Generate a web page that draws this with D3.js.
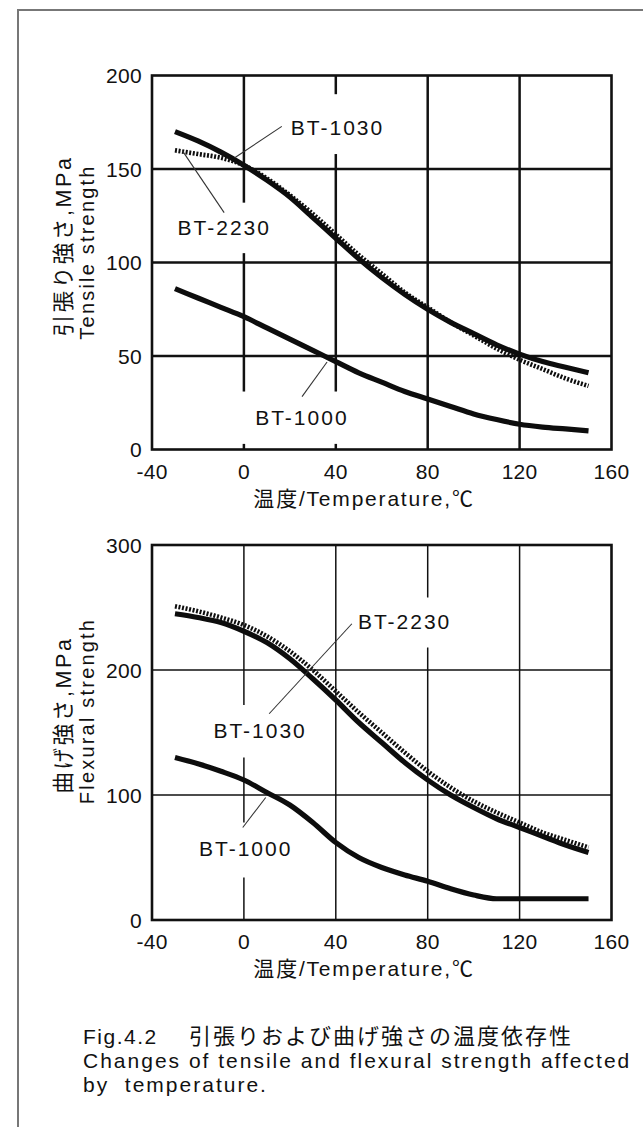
<!doctype html>
<html lang="en">
<head>
  <meta charset="utf-8">
  <title>tensile and flexural strength vs temperature</title>
  <style>
    * { margin: 0; padding: 0; box-sizing: border-box; }
    body { background: #fff; }
    svg { display: block; }
    text { font-family: "Liberation Sans", Arial, "Noto Sans CJK JP", sans-serif; fill: #111; white-space: pre; }
  </style>
</head>
<body>
  <div class="chart"></div>
  <script src="https://cdn.jsdelivr.net/npm/d3@7"></script>
  <script>
    // ---------------------------------------------------------------
    //@@ data
    const temps = [-30, -20, -10, 0, 10, 20, 30, 40, 50, 60, 70, 80, 90, 100, 110, 120, 130, 140, 150];

    const tensileBT1030 = [170, 165, 159, 152, 144, 135, 124, 113, 102, 92, 83, 75, 68, 62, 56, 51, 47, 44, 41];
    const tensileBT2230 = [160, 158, 156, 152, 145, 136, 126, 115, 104, 94, 84, 76, 68, 61, 54, 48, 43, 38, 34];
    const tensileBT1000 = [86, 81, 76, 71, 65, 59, 53, 47, 41, 36, 31, 27, 23, 19, 16, 13.5, 12, 11, 10];

    const flexBT1030 = [245, 242, 238, 231, 222, 209, 193, 176, 158, 142, 126, 112, 100, 90, 81, 74, 67, 60, 54];
    const flexBT2230 = [251, 247, 242, 236, 227, 215, 200, 183, 166, 150, 134, 119, 106, 95, 86, 78, 70, 64, 58];
    const flexBT1000 = [130, 125, 119, 112, 102, 92, 78, 62, 50, 42, 36, 31, 25, 20, 17, 17, 17, 17, 17];

    const tempTicks = [-40, 0, 40, 80, 120, 160];
    const tensileTicks = [0, 50, 100, 150, 200];
    const flexTicks = [0, 100, 200, 300];

    // ---------------------------------------------------------------
    //@@ svg configuration
    const svgDim = {w: 643, h: 1127};
    const plotX = [152, 611.5];

    const svg = d3.select('.chart').append('svg')
      .attr('width', svgDim.w)
      .attr('height', svgDim.h);

    //@@ outer frame (only top and left survive in the scan)
    svg.append('path')
      .attr('d', `M18,${svgDim.h} V10 H${svgDim.w}`)
      .attr('fill', 'none')
      .attr('stroke', '#777')
      .attr('stroke-width', 2);

    // the original type is set with wide tracking
    function label(g, txt, x, y, size, anchor, spacing, rotate) {
      return g.append('text')
        .attr('transform', `translate(${x},${y})` + (rotate ? ' rotate(-90)' : ''))
        .attr('text-anchor', anchor || 'start')
        .style('font-size', size + 'px')
        .style('letter-spacing', (spacing || 0) + 'px')
        .text(txt);
    }

    const panels = [
      {
        top: 75.5, bottom: 449.5, yMax: 200, yTicks: tensileTicks, gridW: 2.5,
        series: [
          {values: tensileBT1000, dotted: false},
          {values: tensileBT1030, dotted: false},
          {values: tensileBT2230, dotted: true}
        ],
        gaps: [{x: 0, spans: [[105, 132], [3, 31]]}, {x: 40, spans: [[158, 190], [3, 31]]}],
        names: [
          {text: 'BT-1030', x: 40.3, y: 172},
          {text: 'BT-2230', x: -9, y: 118.5},
          {text: 'BT-1000', x: 24.8, y: 17}
        ],
        leaders: [
          [[16.5, 172.8], [-4, 156]],
          [[-26.8, 159.8], [-8.6, 126.7]],
          [[25.3, 28.3], [36.2, 46.8]]
        ],
        titleJa: '引張り強さ,MPa', titleEn: 'Tensile strength', titleJaY: 246, titleEnY: 252
      },
      {
        top: 545, bottom: 920, yMax: 300, yTicks: flexTicks, gridW: 1.5,
        series: [
          {values: flexBT1000, dotted: false},
          {values: flexBT1030, dotted: false},
          {values: flexBT2230, dotted: true}
        ],
        gaps: [{x: 0, spans: [[130, 172], [34, 78]]}, {x: 80, spans: [[218, 258]]}],
        names: [
          {text: 'BT-2230', x: 69.5, y: 238.6},
          {text: 'BT-1030', x: 6.6, y: 152},
          {text: 'BT-1000', x: 0.35, y: 57}
        ],
        leaders: [
          [[47, 237], [11, 165]],
          [[-0.5, 74], [9.5, 98]]
        ],
        titleJa: '曲げ強さ,MPa', titleEn: 'Flexural strength', titleJaY: 715, titleEnY: 711
      }
    ];

    panels.forEach(p => {
      const g = svg.append('g');
      const x = d3.scaleLinear().domain([-40, 160]).range(plotX);
      const y = d3.scaleLinear().domain([0, p.yMax]).range([p.bottom, p.top]);

      //@@ horizontal grid
      g.selectAll('line.h').data(p.yTicks.slice(1, -1)).enter().append('line')
        .attr('x1', plotX[0]).attr('x2', plotX[1])
        .attr('y1', d => y(d)).attr('y2', d => y(d))
        .attr('stroke', '#111').attr('stroke-width', p.gridW);

      //@@ vertical grid, broken where a label sits
      tempTicks.slice(1, -1).forEach(t => {
        const gap = p.gaps.find(d => d.x === t);
        let spans = [[0, p.yMax]];
        if (gap) {
          const cuts = gap.spans.slice().sort((a, b) => a[0] - b[0]);
          spans = [];
          let lo = 0;
          cuts.forEach(c => { spans.push([lo, c[0]]); lo = c[1]; });
          spans.push([lo, p.yMax]);
        }
        spans.forEach(s => {
          g.append('line')
            .attr('x1', x(t)).attr('x2', x(t))
            .attr('y1', y(s[0])).attr('y2', y(s[1]))
            .attr('stroke', '#111').attr('stroke-width', p.gridW);
        });
      });

      //@@ plot frame
      g.append('rect')
        .attr('x', plotX[0]).attr('y', p.top)
        .attr('width', plotX[1] - plotX[0]).attr('height', p.bottom - p.top)
        .attr('fill', 'none').attr('stroke', '#111').attr('stroke-width', 2.6);

      //@@ curves
      const line = d3.line()
        .x((d, i) => x(temps[i]))
        .y(d => y(d))
        .curve(d3.curveMonotoneX);

      p.series.forEach(s => {
        g.append('path')
          .attr('d', line(s.values))
          .attr('fill', 'none')
          .attr('stroke', '#0d0d0d')
          .attr('stroke-width', s.dotted ? 4.6 : 5.2)
          .attr('stroke-dasharray', s.dotted ? '2,1.6' : null)
          .attr('stroke-linecap', 'butt');
      });

      //@@ leader lines
      p.leaders.forEach(l => {
        g.append('line')
          .attr('x1', x(l[0][0])).attr('y1', y(l[0][1]))
          .attr('x2', x(l[1][0])).attr('y2', y(l[1][1]))
          .attr('stroke', '#333').attr('stroke-width', 1.1);
      });

      //@@ grade names
      p.names.forEach(n => {
        label(g, n.text, x(n.x) + 1, y(n.y) + 7.5, 21, 'middle', 2);
      });

      //@@ tick labels
      p.yTicks.forEach(t => label(g, String(t), 142, y(t) + 7.5, 21, 'end', 0.3));
      tempTicks.forEach(t => label(g, String(t), x(t), p.bottom + 29, 21, 'middle', 0.3));

      //@@ axis titles
      label(g, '温度/Temperature,℃', 364, p.bottom + 56, 21, 'middle', 1.8);
      label(g, p.titleJa, 71, p.titleJaY, 21.5, 'middle', 2.6, true);
      label(g, p.titleEn, 94, p.titleEnY, 20, 'middle', 2.2, true);
    });

    //@@ caption
    const cap = svg.append('g');
    label(cap, 'Fig.4.2', 83, 1044, 21, 'start', 1.5);
    label(cap, '引張りおよび曲げ強さの温度依存性', 189, 1044, 22, 'start', 2);
    label(cap, 'Changes of tensile and flexural strength affected', 83, 1068, 21, 'start', 2);
    label(cap, 'by  temperature.', 83, 1092, 21, 'start', 2);
  </script>
</body>
</html>
